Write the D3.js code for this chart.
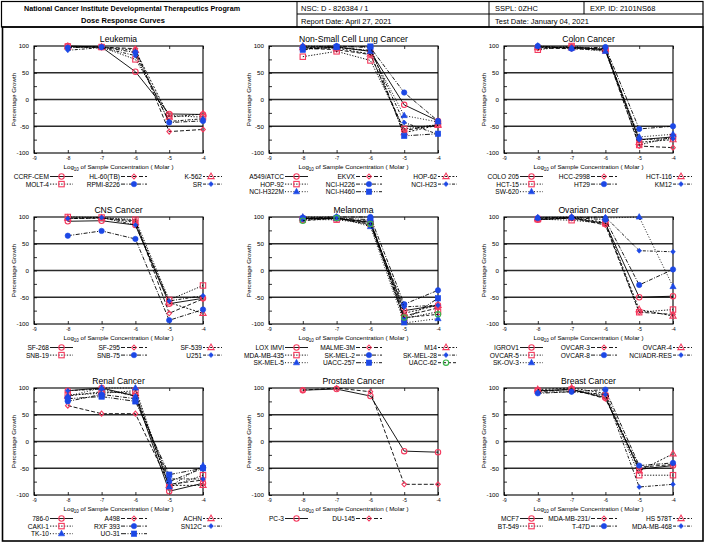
<!DOCTYPE html>
<html><head><meta charset="utf-8">
<script src="https://cdn.jsdelivr.net/npm/d3@7"></script>
<style>
body{margin:0;background:#fff}
svg{display:block}
text{font-family:"Liberation Sans",Arial,Helvetica,sans-serif;fill:#000}
</style>
</head><body>
<svg id="c" width="709" height="547"></svg>
<script>
// ---------- data ----------
const doses = [-8, -7, -6, -5, -4];
const xTicks = [-9, -8, -7, -6, -5, -4];
const yTicks = [100, 50, 0, -50, -100];
const yMinor = [75, 25, -25, -75];
const gridLevels = [50, 0, -50];

const panelTitles = ["Leukemia", "Non-Small Cell Lung Cancer", "Colon Cancer",
  "CNS Cancer", "Melanoma", "Ovarian Cancer",
  "Renal Cancer", "Prostate Cancer", "Breast Cancer"];

const leukemiaNames = ["CCRF-CEM", "HL-60(TB)", "K-562", "MOLT-4", "RPMI-8226", "SR"];
const leukemiaValues = [
  [100, 98, 52, -27, -28], [98, 98, 95, -60, -56], [99, 98, 92, -33, -27],
  [99, 98, 75, -30, -33], [97, 98, 88, -43, -40], [92, 97, 82, -41, -36]];

const nsclcNames = ["A549/ATCC", "EKVX", "HOP-62", "HOP-92", "NCI-H226", "NCI-H23", "NCI-H322M", "NCI-H460"];
const nsclcValues = [
  [98, 98, 90, -10, -40], [96, 93, 84, -58, -47], [97, 96, 85, -62, -48],
  [80, 90, 73, -55, -47], [98, 100, 97, 13, -40], [95, 97, 92, -43, -65],
  [100, 99, 90, -30, -42], [93, 98, 99, -68, -64]];

const colonNames = ["COLO 205", "HCC-2998", "HCT-116", "HCT-15", "HT29", "KM12", "SW-620"];
const colonValues = [
  [98, 98, 93, -75, -70], [96, 95, 92, -87, -90], [97, 97, 94, -80, -75],
  [93, 100, 92, -85, -70], [100, 95, 98, -55, -50], [99, 97, 95, -75, -73],
  [100, 96, 90, -70, -65]];

const cnsNames = ["SF-268", "SF-295", "SF-539", "SNB-19", "SNB-75", "U251"];
const cnsValues = [
  [92, 93, 85, -62, -52], [97, 98, 93, -80, -53], [98, 98, 90, -60, -80],
  [100, 99, 95, -55, -28], [65, 74, 59, -93, -73], [97, 99, 85, -57, -47]];

const melanomaNames = ["LOX IMVI", "MALME-3M", "M14", "MDA-MB-435", "SK-MEL-2", "SK-MEL-28", "SK-MEL-5", "UACC-257", "UACC-62"];
const melanomaValues = [
  [97, 97, 90, -75, -65], [96, 97, 92, -85, -70], [98, 98, 90, -80, -65],
  [95, 95, 87, -90, -77], [98, 100, 100, -63, -37], [97, 98, 85, -68, -65],
  [100, 100, 82, -98, -90], [97, 98, 95, -93, -52], [93, 98, 87, -88, -82]];

const ovarianNames = ["IGROV1", "OVCAR-3", "OVCAR-4", "OVCAR-5", "OVCAR-8", "NCI/ADR-RES", "SK-OV-3"];
const ovarianValues = [
  [95, 98, 88, -50, -48], [96, 98, 85, -78, -82], [97, 99, 90, -73, -85],
  [96, 94, 88, -78, -73], [98, 99, 95, -27, 2], [99, 99, 100, 37, 35],
  [99, 100, 98, 100, -30]];

const renalNames = ["786-0", "A498", "ACHN", "CAKI-1", "RXF 393", "SN12C", "TK-10", "UO-31"];
const renalValues = [
  [95, 100, 85, -93, -78], [67, 52, 52, -80, -72], [85, 93, 90, -82, -82],
  [87, 90, 95, -85, -63], [75, 88, 80, -75, -50], [95, 98, 85, -70, -70],
  [85, 100, 100, -85, -45], [80, 84, 75, -62, -50]];

const prostateNames = ["PC-3", "DU-145"];
const prostateValues = [[96, 98, 85, -18, -20], [96, 100, 93, -80, -80]];

const breastNames = ["MCF7", "MDA-MB-231/", "HS 578T", "BT-549", "T-47D", "MDA-MB-468"];
const breastValues = [
  [95, 97, 82, -52, -45], [93, 98, 80, -48, -43], [97, 100, 90, -55, -23],
  [95, 97, 85, -63, -63], [90, 93, 97, -45, -40], [92, 93, 88, -85, -80]];

const headerTexts = ["National Cancer Institute Developmental Therapeutics Program", "Dose Response Curves",
  "NSC: D - 826384 / 1", "Report Date: April 27, 2021", "SSPL: 0ZHC", "Test Date: January 04, 2021", "EXP. ID: 2101NS68"];

// ---------- styles ----------
const RED = "#f43a5e", BLUE = "#1c48e6", GREEN = "#3bb54a";
const dashes = [null, "4,2", "2,1.6", "1.3,1.5", "4,1.5,1,1.5", "3,1.5,1,1.5", "1,1.8", "5,1.5,1,1.5,1,1.5", "3,2"];
const markers = [
  {t: "circle", c: RED, f: false}, {t: "diamond", c: RED, f: false}, {t: "triangle", c: RED, f: false},
  {t: "square", c: RED, f: false}, {t: "circle", c: BLUE, f: true}, {t: "diamond", c: BLUE, f: true},
  {t: "triangle", c: BLUE, f: true}, {t: "square", c: BLUE, f: true}, {t: "circle", c: GREEN, f: false}];

const panels = [
  [leukemiaNames, leukemiaValues], [nsclcNames, nsclcValues], [colonNames, colonValues],
  [cnsNames, cnsValues], [melanomaNames, melanomaValues], [ovarianNames, ovarianValues],
  [renalNames, renalValues], [prostateNames, prostateValues], [breastNames, breastValues]];

const svg = d3.select("#c");

// ---------- header ----------
const hdr = svg.append("g");
hdr.append("rect").attr("x", 1.5).attr("y", 1.5).attr("width", 701.5).attr("height", 25.5)
  .attr("fill", "none").attr("stroke", "#000").attr("stroke-width", 1.2);
[[297, 1.5, 297, 27], [489, 1.5, 489, 27], [584, 1.5, 584, 14], [297, 14, 703, 14]].forEach(l =>
  hdr.append("line").attr("x1", l[0]).attr("y1", l[1]).attr("x2", l[2]).attr("y2", l[3])
    .attr("stroke", "#000").attr("stroke-width", 1));
hdr.append("text").attr("x", 132).attr("y", 11).attr("text-anchor", "middle")
  .attr("font-size", 7.2).attr("font-weight", "bold").text(headerTexts[0]);
hdr.append("text").attr("x", 123).attr("y", 22.5).attr("text-anchor", "middle")
  .attr("font-size", 7.5).attr("font-weight", "bold").text(headerTexts[1]);
[[301, 10.5, 2], [301, 23.5, 3], [495, 10.5, 4], [495, 23.5, 5], [590, 10.5, 6]].forEach(t =>
  hdr.append("text").attr("x", t[0]).attr("y", t[1]).attr("font-size", 7.5).text(headerTexts[t[2]]));

// main frame
svg.append("rect").attr("x", 2.5).attr("y", 27).attr("width", 700.5).attr("height", 514)
  .attr("fill", "none").attr("stroke", "#000").attr("stroke-width", 1.6);

// ---------- marker drawing ----------
function drawMarker(g, cx, cy, m) {
  let el;
  if (m.t === "circle") {
    el = g.append("circle").attr("cx", cx).attr("cy", cy).attr("r", 2.7);
  } else if (m.t === "square") {
    el = g.append("rect").attr("x", cx - 2.7).attr("y", cy - 2.7).attr("width", 5.4).attr("height", 5.4);
  } else if (m.t === "triangle") {
    el = g.append("path").attr("d", `M${cx},${cy - 3.4}L${cx + 3.1},${cy + 2.1}L${cx - 3.1},${cy + 2.1}Z`);
  } else {
    el = g.append("path").attr("d", `M${cx},${cy - 2.5}L${cx + 2.3},${cy}L${cx},${cy + 2.5}L${cx - 2.3},${cy}Z`);
  }
  el.attr("fill", m.f ? m.c : "none").attr("stroke", m.c).attr("stroke-width", m.f ? 0.6 : 1.1);
}

// ---------- panels ----------
const PW = 169, PH = 107;
panels.forEach((p, i) => {
  const r = Math.floor(i / 3), c = i % 3;
  const ox = 235 * c, oy = 171 * r;
  const left = 34 + ox, top = 46 + oy;
  const x = d3.scaleLinear().domain([-9, -4]).range([left, left + PW]);
  const y = d3.scaleLinear().domain([-100, 100]).range([top + PH, top]);
  const g = svg.append("g");

  // title
  g.append("text").attr("x", left + PW / 2).attr("y", top - 3.8).attr("text-anchor", "middle")
    .attr("font-size", 8.6).text(panelTitles[i]);

  // grid lines
  gridLevels.forEach(v => g.append("line").attr("x1", left).attr("x2", left + PW)
    .attr("y1", y(v)).attr("y2", y(v)).attr("stroke", "#2a2a2a").attr("stroke-width", 1.7));

  // axes
  const ya = g.append("g").attr("transform", `translate(${left},0)`)
    .call(d3.axisLeft(y).tickValues(yTicks.concat(yMinor)).tickSize(-3).tickPadding(5)
      .tickFormat(d => yTicks.includes(d) ? d : ""));
  ya.selectAll("text").attr("font-size", 6.2).style("font-family", null);
  const xa = g.append("g").attr("transform", `translate(0,${top + PH})`)
    .call(d3.axisBottom(x).tickValues(xTicks).tickSize(-3).tickPadding(3.5).tickFormat(d => d));
  xa.selectAll("text").attr("font-size", 4.8).style("font-family", null);
  g.append("g").attr("transform", `translate(0,${top})`)
    .call(d3.axisTop(x).tickValues(xTicks).tickSize(-3).tickFormat(""));
  g.selectAll(".domain").remove();
  g.selectAll(".tick line").attr("stroke", "#000").attr("stroke-width", 0.8);
  g.selectAll(".tick text").attr("fill", "#000");

  // frame
  g.append("rect").attr("x", left).attr("y", top).attr("width", PW).attr("height", PH)
    .attr("fill", "none").attr("stroke", "#000").attr("stroke-width", 1.1);

  // axis titles
  g.append("text").attr("transform", `translate(${left - 18},${top + PH / 2}) rotate(-90)`)
    .attr("text-anchor", "middle").attr("font-size", 6.2).text("Percentage Growth");
  const xl = g.append("text").attr("x", left + PW / 2).attr("y", top + PH + 16)
    .attr("text-anchor", "middle").attr("font-size", 6.2);
  xl.append("tspan").text("Log");
  xl.append("tspan").attr("font-size", 4.5).attr("dy", 2).text("10");
  xl.append("tspan").attr("dy", -2).text(" of Sample Concentration ( Molar )");

  // series
  const [names, vals] = p;
  const line = d3.line().x(d => x(d[0])).y(d => y(d[1]));
  vals.forEach((v, k) => {
    const pts = doses.map((d, j) => [d, v[j]]);
    const pl = g.append("path").attr("d", line(pts)).attr("fill", "none")
      .attr("stroke", "#000").attr("stroke-width", 0.9);
    if (dashes[k]) pl.attr("stroke-dasharray", dashes[k]);
    pts.forEach(pt => drawMarker(g, x(pt[0]), y(pt[1]), markers[k]));
  });

  // legend
  const textEnd = [49, 120, 202], sx0 = [50, 121, 203], sx1 = [73, 147, 222], mx = [61.5, 134, 211];
  names.forEach((n, k) => {
    const lr = Math.floor(k / 3), lc = k % 3;
    const ly = 176.5 + oy + lr * 7.6;
    g.append("text").attr("x", ox + textEnd[lc]).attr("y", ly + 2.4).attr("text-anchor", "end")
      .attr("font-size", 6.6).text(n);
    const sl = g.append("line").attr("x1", ox + sx0[lc]).attr("x2", ox + sx1[lc])
      .attr("y1", ly).attr("y2", ly).attr("stroke", "#000").attr("stroke-width", 0.9);
    if (dashes[k]) sl.attr("stroke-dasharray", dashes[k]);
    drawMarker(g, ox + mx[lc], ly, markers[k]);
  });
});
</script>
</body></html>
